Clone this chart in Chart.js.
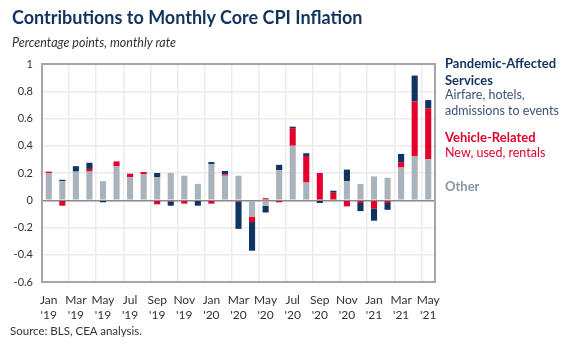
<!DOCTYPE html>
<html>
<head>
<meta charset="utf-8">
<script src="https://cdn.jsdelivr.net/npm/chart.js@4"></script>
<style>
  body { margin: 0; background: #fff; font-family: Lato, sans-serif; }
  #wrap { position: relative; width: 577px; height: 346px; overflow: hidden; }
  canvas { position: absolute; left: 0; top: 0; }
  .t { position: absolute; white-space: nowrap; }
  #title { left: 12px; top: 6px; font-size: 18px; font-weight: 700; color: #13335f; }
  #sub { left: 12px; top: 35px; font-size: 12.5px; font-style: italic; color: #333; }
  #src { left: 10px; top: 324px; font-size: 11.5px; color: #333; }
  .lg { left: 445px; font-size: 12.5px; line-height: 16px; }
  .b { font-weight: 700; font-size: 13px; }
</style>
</head>
<body>
<div id="wrap">
  <canvas id="c" width="577" height="346"></canvas>
  <div class="t" id="title">Contributions to Monthly Core CPI Inflation</div>
  <div class="t" id="sub">Percentage points, monthly rate</div>
  <div class="t lg" style="top:55px;color:#13335f"><span class="b">Pandemic-Affected<br>Services</span></div>
  <div class="t lg" style="top:87px;color:#3b5478">Airfare, hotels,<br>admissions to events</div>
  <div class="t lg b" style="top:129px;color:#e4002b">Vehicle-Related</div>
  <div class="t lg" style="top:145px;color:#e4002b">New, used, rentals</div>
  <div class="t lg b" style="top:178px;color:#8995a2">Other</div>
  <div class="t" id="src">Source: BLS, CEA analysis.</div>
</div>
<script>
// months Jan 2019 - May 2021
const categories = [
  ['Jan', "'19"], ['Feb', "'19"], ['Mar', "'19"], ['Apr', "'19"], ['May', "'19"], ['Jun', "'19"],
  ['Jul', "'19"], ['Aug', "'19"], ['Sep', "'19"], ['Oct', "'19"], ['Nov', "'19"], ['Dec', "'19"],
  ['Jan', "'20"], ['Feb', "'20"], ['Mar', "'20"], ['Apr', "'20"], ['May', "'20"], ['Jun', "'20"],
  ['Jul', "'20"], ['Aug', "'20"], ['Sep', "'20"], ['Oct', "'20"], ['Nov', "'20"], ['Dec', "'20"],
  ['Jan', "'21"], ['Feb', "'21"], ['Mar', "'21"], ['Apr', "'21"], ['May', "'21"]
];

const other = [0.20, 0.14, 0.21, 0.21, 0.14, 0.25, 0.17, 0.19, 0.17, 0.20, 0.18, 0.12,
  0.265, 0.18, 0.18, -0.12, -0.04, 0.22, 0.40, 0.13, 0.005, 0.005, 0.14, 0.12,
  0.175, 0.165, 0.24, 0.325, 0.30];
const vehicle = [0.01, -0.04, 0, 0.02, 0, 0.035, 0.025, 0.017, -0.03, -0.01, -0.025, 0,
  -0.025, 0.01, -0.01, -0.04, 0.015, -0.015, 0.125, 0.195, 0.195, 0.05, -0.045, -0.02,
  -0.06, -0.02, 0.04, 0.40, 0.375];
const pandemic = [0, 0.01, 0.04, 0.045, -0.015, 0, 0, 0, 0.03, -0.03, 0, -0.04,
  0.015, 0.025, -0.20, -0.21, -0.05, 0.04, 0.015, 0.02, -0.02, 0.015, 0.085, -0.06,
  -0.09, -0.05, 0.06, 0.19, 0.06];

const yTicks = [1, 0.8, 0.6, 0.4, 0.2, 0, -0.2, -0.4, -0.6];

// plot frame
const frame = {
  id: 'frame',
  afterDraw(chart) {
    const a = chart.chartArea, c = chart.ctx;
    c.save();
    c.strokeStyle = '#a6a6a6';
    c.lineWidth = 2;
    c.strokeRect(a.left, a.top, a.right - a.left, a.bottom - a.top);
    c.restore();
  }
};

const bar = { barPercentage: 0.45, categoryPercentage: 1, borderWidth: 0 };

new Chart(document.getElementById('c'), {
  type: 'bar',
  data: {
    labels: categories,
    datasets: [
      { label: 'Other', data: other, backgroundColor: '#a9b3bc', ...bar },
      { label: 'Vehicle-Related', data: vehicle, backgroundColor: '#e4002b', ...bar },
      { label: 'Pandemic-Affected Services', data: pandemic, backgroundColor: '#0f3461', ...bar }
    ]
  },
  options: {
    responsive: false,
    animation: false,
    layout: { padding: { left: 0, top: 64, right: 142, bottom: 24 } },
    plugins: { legend: { display: false }, tooltip: { enabled: false } },
    scales: {
      x: {
        stacked: true,
        afterFit(s) { s.height = 40; },
        border: { display: false },
        grid: {
          offset: true,
          drawTicks: false,
          color: ctx => (ctx.index % 2 === 0 && ctx.index > 0 ? '#ebebeb' : 'rgba(0,0,0,0)'),
          lineWidth: 1.5
        },
        ticks: {
          autoSkip: false,
          maxRotation: 0,
          padding: 10,
          color: '#333',
          font: { family: 'Lato', size: 12, lineHeight: 1.3 },
          callback: (v, i) => (i % 2 === 0 ? categories[i] : '')
        }
      },
      y: {
        stacked: true,
        min: -0.6,
        max: 1,
        afterFit(s) { s.width = 42; },
        afterBuildTicks(s) { s.ticks = yTicks.map(v => ({ value: v })); },
        border: { display: false },
        grid: {
          drawTicks: false,
          color: ctx => (ctx.tick && ctx.tick.value === 0 ? '#8a8a8a' : '#ebebeb'),
          lineWidth: 1.5
        },
        ticks: {
          padding: 9,
          color: '#333',
          font: { family: 'Lato', size: 11 },
          callback: v => String(Math.round(v * 10) / 10)
        }
      }
    }
  },
  plugins: [frame]
});
</script>
</body>
</html>
